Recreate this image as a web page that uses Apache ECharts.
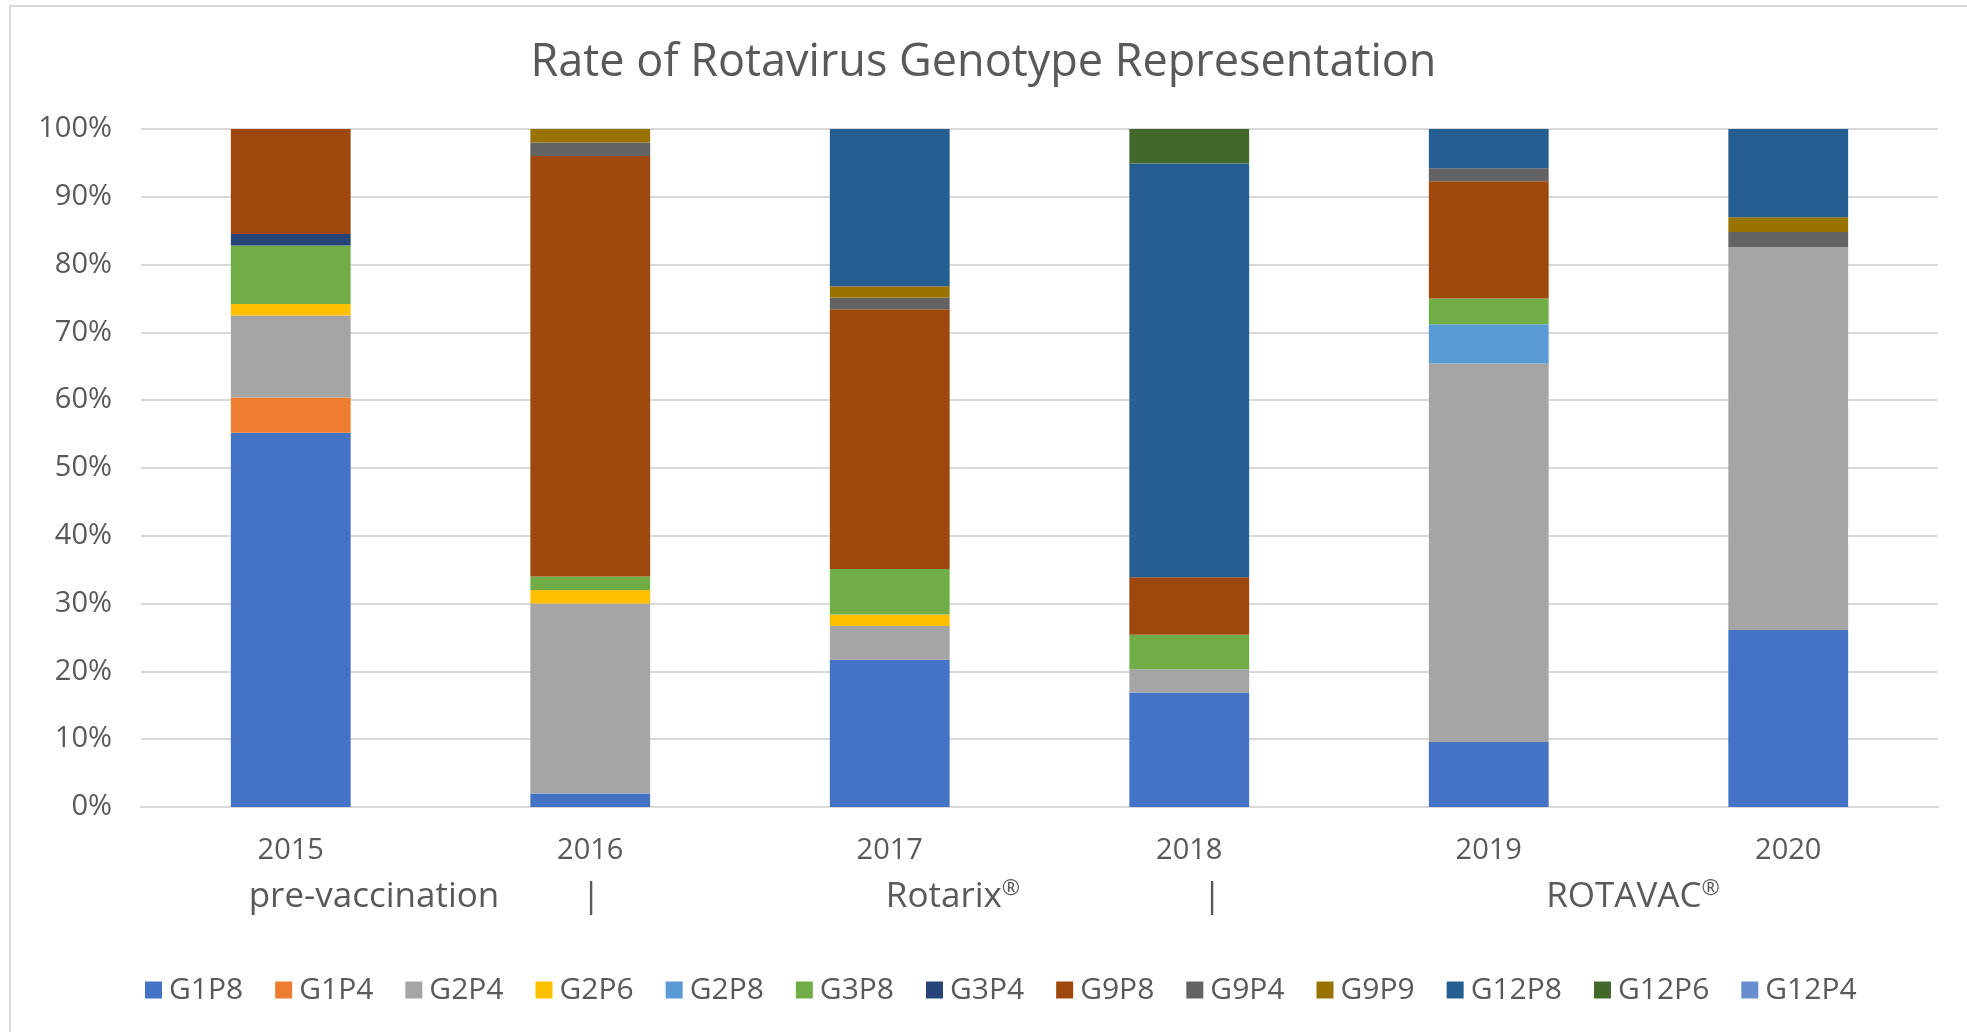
<!DOCTYPE html>
<html>
<head>
<meta charset="utf-8">
<title>Rate of Rotavirus Genotype Representation</title>
<script src="https://cdn.jsdelivr.net/npm/echarts@6/dist/echarts.min.js"></script>
<style>
  html, body { margin: 0; padding: 0; background: #fff; }
  #chart { width: 1967px; height: 1032px; }
</style>
</head>
<body>
<div id="chart"></div>
<script>
// years on the x axis
const years = ['2015', '2016', '2017', '2018', '2019', '2020'];

// share of each genotype per year (%)
const G1P8 = [55.2, 2.0, 21.7, 16.9, 9.6, 26.1];
const G1P4 = [5.2, 0, 0, 0, 0, 0];
const G2P4 = [12.1, 28.0, 5.0, 3.4, 55.8, 56.5];
const G2P6 = [1.7, 2.0, 1.7, 0, 0, 0];
const G2P8 = [0, 0, 0, 0, 5.8, 0];
const G3P8 = [8.6, 2.0, 6.7, 5.1, 3.8, 0];
const G3P4 = [1.7, 0, 0, 0, 0, 0];
const G9P8 = [15.5, 62.0, 38.3, 8.5, 17.3, 0];
const G9P4 = [0, 2.0, 1.7, 0, 1.9, 2.2];
const G9P9 = [0, 2.0, 1.7, 0, 0, 2.2];
const G12P8 = [0, 0, 23.3, 61.0, 5.8, 13.0];
const G12P6 = [0, 0, 0, 5.1, 0, 0];
const G12P4 = [0, 0, 0, 0, 0, 0];

// period labels under the years ({r|} = raised registered sign)
const periods = ['pre-vaccination', '|', 'Rotarix{r|®}', '|', 'ROTAVAC{r|®}'];

const genotypes = [
  ['G1P8', G1P8, '#4472C4'],
  ['G1P4', G1P4, '#ED7D31'],
  ['G2P4', G2P4, '#A5A5A5'],
  ['G2P6', G2P6, '#FFC000'],
  ['G2P8', G2P8, '#5B9BD5'],
  ['G3P8', G3P8, '#70AD47'],
  ['G3P4', G3P4, '#264478'],
  ['G9P8', G9P8, '#9E480E'],
  ['G9P4', G9P4, '#636363'],
  ['G9P9', G9P9, '#997300'],
  ['G12P8', G12P8, '#255E91'],
  ['G12P6', G12P6, '#43682B'],
  ['G12P4', G12P4, '#698ED0']
];

const font = '"Open Sans", "Noto Sans", sans-serif';
const textColor = '#595959';

let chart = echarts.init(document.getElementById('chart'));

let series = genotypes.map(([name, values, color]) => ({
  name: name,
  type: 'bar',
  stack: 'total',
  barWidth: '40%',
  data: values,
  itemStyle: { color: color }
}));

// x positions of the period labels
const periodX = [374, 591, 953, 1212, 1633];

let option = {
  backgroundColor: '#fff',
  animation: false,
  title: {
    text: 'Rate of Rotavirus Genotype Representation',
    left: 'center',
    top: 36,
    textStyle: { fontFamily: font, fontSize: 45, fontWeight: 'normal', color: textColor }
  },
  grid: {
    left: 141,
    right: 29,
    top: 129,
    bottom: 225
  },
  legend: {
    bottom: 22,
    left: 140,
    itemWidth: 17,
    itemHeight: 17,
    itemGap: 32,
    icon: 'rect',
    textStyle: { fontFamily: font, fontSize: 30, color: textColor, padding: [0, 0, 0, 2] },
    data: genotypes.map(g => g[0])
  },
  xAxis: {
    type: 'category',
    data: years,
    axisLine: { lineStyle: { color: '#D9D9D9', width: 2 } },
    axisTick: { show: false },
    axisLabel: { fontFamily: font, fontSize: 29, color: textColor, margin: 29 }
  },
  yAxis: {
    type: 'value',
    min: 0,
    max: 100,
    interval: 10,
    axisLine: { show: false },
    axisTick: { show: false },
    splitLine: { lineStyle: { color: '#D9D9D9', width: 2 } },
    axisLabel: { fontFamily: font, fontSize: 29, color: textColor, margin: 29, formatter: '{value}%' }
  },
  graphic: [
    {
      type: 'rect',
      z: -10,
      shape: { x: 10, y: 6, width: 2100, height: 1200 },
      style: { fill: 'none', stroke: '#D9D9D9', lineWidth: 2 }
    }
  ].concat(periods.map((p, i) => ({
    type: 'text',
    x: periodX[i],
    y: 897,
    style: {
      text: p,
      fontFamily: font,
      fontSize: 35,
      fill: textColor,
      align: 'center',
      verticalAlign: 'middle',
      rich: {
        r: { fontFamily: font, fontSize: 22, fill: textColor, padding: [0, 0, 16, 0] }
      }
    }
  }))),
  series: series
};

chart.setOption(option);
</script>
</body>
</html>
